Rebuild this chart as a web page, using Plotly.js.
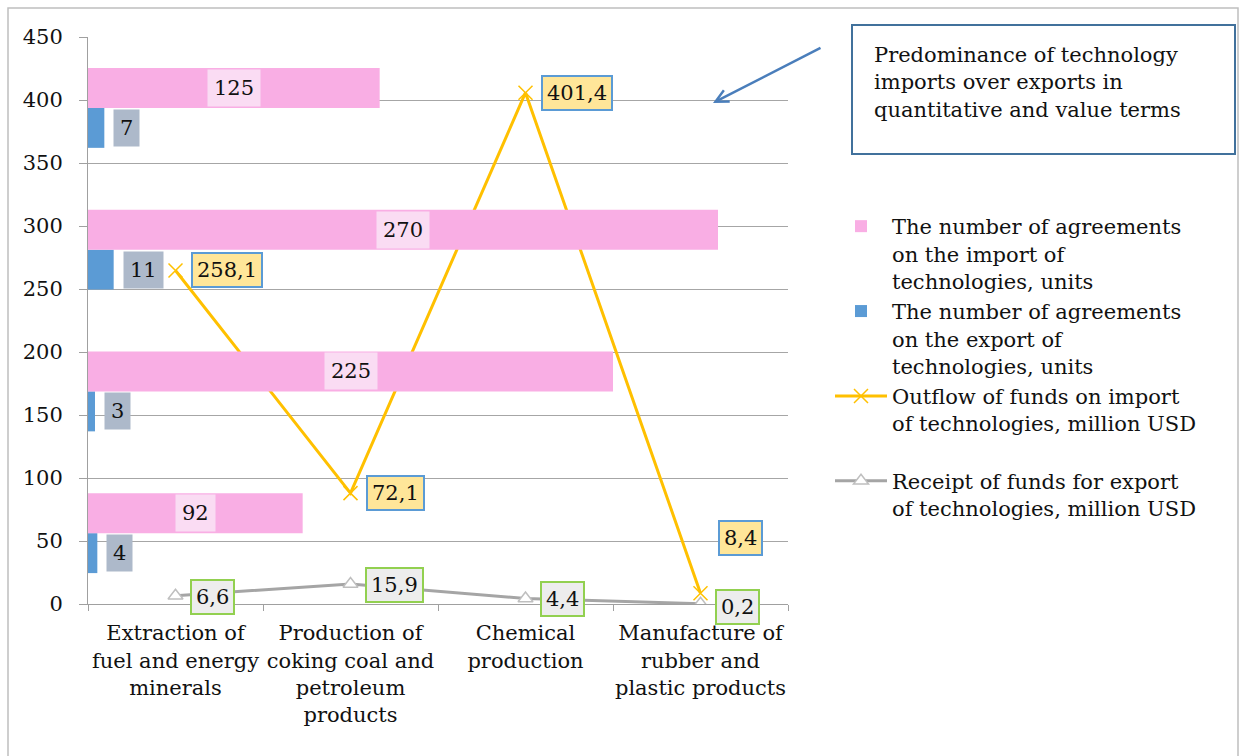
<!DOCTYPE html>
<html>
<head>
<meta charset="utf-8">
<script src="https://cdn.plot.ly/plotly-3.0.1.min.js"></script>
<style>html,body{margin:0;padding:0;background:#fff;}#chart{width:1240px;height:756px;}</style>
</head>
<body>
<div id="chart"></div>
<script>
// ---- data ----
const industries = [
  "Extraction of<br>fuel and energy<br>minerals",
  "Production of<br>coking coal and<br>petroleum<br>products",
  "Chemical<br>production",
  "Manufacture of<br>rubber and<br>plastic products"
];
// bar rows (bottom to top on the hidden category axis)
const barRows = ["row1", "row2", "row3", "row4"];
const importAgreements = [92, 225, 270, 125];
const exportAgreements = [4, 3, 11, 7];
const outflowImport = [258.1, 72.1, 401.4, 8.4];
const receiptExport = [6.6, 15.9, 4.4, 0.2];
const yTicks = [0, 50, 100, 150, 200, 250, 300, 350, 400, 450];

const seriesNames = [
  "The number of agreements<br>on the import of<br>technologies, units",
  "The number of agreements<br>on the export of<br>technologies, units",
  "Outflow of funds on import<br>of technologies, million USD<br> ",
  "Receipt of funds for export<br>of technologies, million USD"
];
const noteText = "Predominance of technology<br>imports over exports in<br>quantitative and value terms";

const fmt = v => String(v).replace('.', ',');
const FONT = "DejaVu Serif";
const FS = 21;

const traces = [
  {
    type: 'bar', orientation: 'h', name: seriesNames[1],
    y: barRows, x: exportAgreements, xaxis: 'x2', yaxis: 'y2',
    marker: {color: '#5B9BD5'}, legendrank: 2, legendgroup: 'b', hoverinfo: 'skip'
  },
  {
    type: 'bar', orientation: 'h', name: seriesNames[0],
    y: barRows, x: importAgreements, xaxis: 'x2', yaxis: 'y2',
    marker: {color: '#F9AEE4'}, legendrank: 1, legendgroup: 'a', hoverinfo: 'skip'
  },
  {
    type: 'scatter', mode: 'lines+markers', name: seriesNames[3],
    x: [0, 1, 2, 3], y: receiptExport, stackgroup: 'money', fill: 'none',
    line: {color: '#A5A5A5', width: 3},
    marker: {symbol: 'triangle-up', size: 13, color: '#FFFFFF', line: {color: '#BFBFBF', width: 1.5}},
    legendrank: 4, legendgroup: 'd', hoverinfo: 'skip'
  },
  {
    type: 'scatter', mode: 'lines+markers', name: seriesNames[2],
    x: [0, 1, 2, 3], y: outflowImport, stackgroup: 'money', fill: 'none',
    line: {color: '#FFC000', width: 3},
    marker: {symbol: 'x-thin-open', size: 14, color: '#FFC000', line: {color: '#FFC000', width: 1.5}},
    legendrank: 3, legendgroup: 'c', hoverinfo: 'skip'
  }
];

const annotations = [];
importAgreements.forEach((v, i) => {
  annotations.push({
    xref: 'x2', yref: 'y2', x: v / 2, y: barRows[i], yshift: 20,
    text: String(v), showarrow: false, bgcolor: '#FADCF3', borderpad: 6,
    font: {family: FONT, size: FS, color: '#111'}
  });
});
exportAgreements.forEach((v, i) => {
  annotations.push({
    xref: 'x2', yref: 'y2', x: v, y: barRows[i], yshift: -20, xshift: 9, xanchor: 'left',
    text: String(v), showarrow: false, bgcolor: '#ADB9CA', borderpad: 6,
    font: {family: FONT, size: FS, color: '#111'}
  });
});
outflowImport.forEach((v, i) => {
  const last = i === 3;
  annotations.push({
    xref: 'x', yref: 'y', x: i, y: v + receiptExport[i],
    xanchor: 'left', xshift: last ? 17 : 15, yshift: last ? 55 : 0,
    text: fmt(v), showarrow: false, bgcolor: '#FFE699', bordercolor: '#5B9BD5', borderwidth: 2, borderpad: 4,
    font: {family: FONT, size: FS, color: '#111'}
  });
});
receiptExport.forEach((v, i) => {
  annotations.push({
    xref: 'x', yref: 'y', x: i, y: v,
    xanchor: 'left', xshift: 14, yshift: i === 3 ? -3 : -1,
    text: fmt(v), showarrow: false, bgcolor: '#EDEDED', bordercolor: '#92D050', borderwidth: 2, borderpad: 4,
    font: {family: FONT, size: FS, color: '#111'}
  });
});
annotations.push({
  xref: 'paper', yref: 'paper', x: (872 - 88) / 700, y: (604 - 82) / 567,
  xanchor: 'left', yanchor: 'middle', align: 'left', showarrow: false,
  text: noteText, font: {family: FONT, size: FS, color: '#111'}
});
annotations.push({
  xref: 'paper', yref: 'paper', x: (713 - 88) / 700, y: (604 - 103) / 567,
  ax: 109, ay: -56, axref: 'pixel', ayref: 'pixel', text: '', showarrow: true,
  arrowhead: 5, arrowsize: 1, arrowwidth: 2.5, arrowcolor: '#4A7EBB'
});

const layout = {
  width: 1240, height: 756,
  margin: {l: 88, r: 452, t: 37, b: 152},
  paper_bgcolor: '#FFFFFF', plot_bgcolor: '#FFFFFF',
  font: {family: FONT, size: FS, color: '#111'},
  showlegend: true,
  barmode: 'group', bargap: 0.436, bargroupgap: 0,
  xaxis: {
    type: 'category', tickmode: 'array', tickvals: [0, 1, 2, 3], ticktext: industries, tickangle: 0,
    range: [-0.5, 3.5], tickson: 'boundaries', ticks: 'outside', ticklen: 6, tickcolor: '#A0A0A0',
    showline: true, linecolor: '#A0A0A0', linewidth: 1, showgrid: false, zeroline: false,
    ticklabelstandoff: 10, fixedrange: true, tickfont: {family: FONT, size: FS, color: '#111'}
  },
  yaxis: {
    range: [0, 450], tickvals: yTicks, ticks: 'outside', ticklen: 8, tickcolor: '#A0A0A0',
    showline: true, linecolor: '#A0A0A0', linewidth: 1, showgrid: true, gridcolor: '#A6A6A6', gridwidth: 1,
    zeroline: false, ticklabelstandoff: 12, fixedrange: true, tickfont: {family: FONT, size: FS, color: '#111'}
  },
  xaxis2: {overlaying: 'x', side: 'top', range: [0, 300], visible: false, fixedrange: true},
  yaxis2: {overlaying: 'y', side: 'right', type: 'category', categoryarray: barRows, range: [-0.5, 3.5], visible: false, fixedrange: true},
  legend: {
    x: (830 - 88) / 700, y: (604 - 206) / 567, xanchor: 'left', yanchor: 'top',
    valign: 'top', itemwidth: 52, tracegroupgap: 39, traceorder: 'normal',
    font: {family: FONT, size: FS, color: '#111'}, bgcolor: 'rgba(0,0,0,0)'
  },
  annotations: annotations,
  shapes: [
    {type: 'rect', xref: 'paper', yref: 'paper',
     x0: (852 - 88) / 700, x1: (1235 - 88) / 700, y0: (604 - 154) / 567, y1: (604 - 25) / 567,
     line: {color: '#41719C', width: 2}, fillcolor: 'rgba(0,0,0,0)'},
    {type: 'rect', xref: 'paper', yref: 'paper',
     x0: (8 - 88) / 700, x1: (1238 - 88) / 700, y0: (604 - 770) / 567, y1: (604 - 8) / 567,
     line: {color: '#BFBFBF', width: 1.5}, fillcolor: 'rgba(0,0,0,0)', layer: 'below'}
  ]
};

Plotly.newPlot('chart', traces, layout, {displayModeBar: false, staticPlot: true});
</script>
</body>
</html>
